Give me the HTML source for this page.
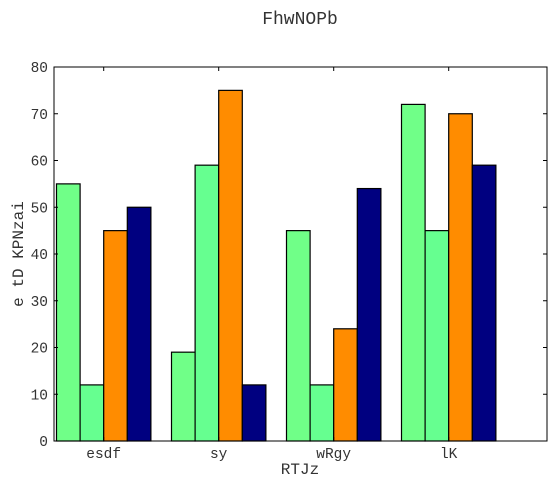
<!DOCTYPE html>
<html><head><style>
body{margin:0;background:#fff;}
text{font-family:"Liberation Mono","DejaVu Sans Mono",monospace;fill:#333;}
</style></head><body>
<svg id="c" width="560" height="490" xmlns="http://www.w3.org/2000/svg">
<rect width="560" height="490" fill="#fff"/>
<text x="300" y="24" text-anchor="middle" font-size="18">FhwNOPb</text>
<g id="bars"></g>
<g id="axes"></g>
<text x="300" y="474" text-anchor="middle" font-size="16">RTJz</text>
<text x="23" y="254" text-anchor="middle" font-size="16" transform="rotate(-90 23 254)">e tD KPNzai</text>
</svg>
<script>
const categories=["esdf","sy","wRgy","lK"];
const series1=[55,19,45,72];
const series2=[12,59,12,45];
const series3=[45,75,24,70];
const series4=[50,12,54,59];
const yTicks=[0,10,20,30,40,50,60,70,80];
const colors=["#70ff88","#66ff90","#ff8c00","#000080"];
const NS="http://www.w3.org/2000/svg";
const L=54,R=547,T=67,B=441,yMax=80;
const y=v=>B-(v/yMax)*(B-T);
const bw=23.6;
const x=i=>56.5+i*115;
const bars=document.getElementById('bars'),axes=document.getElementById('axes');
function mk(tag,a,parent){const e=document.createElementNS(NS,tag);for(const k in a)e.setAttribute(k,a[k]);parent.appendChild(e);return e;}
const all=[series1,series2,series3,series4];
all.forEach((s,si)=>{s.forEach((v,ci)=>{
 const r=mk('rect',{x:x(ci)+si*bw,y:y(v),width:bw,height:B-y(v),fill:colors[si],stroke:'#000','stroke-width':1.2},bars);
 
 
});});
const frame=mk('rect',{x:L,y:T,width:R-L,height:B-T,fill:'none',stroke:'#000','stroke-width':1},axes);


yTicks.forEach(t=>{
 mk('line',{x1:L,x2:L+4,y1:y(t),y2:y(t),stroke:'#000'},axes);
 mk('line',{x1:R,x2:R-4,y1:y(t),y2:y(t),stroke:'#000'},axes);
 const tx=mk('text',{x:L-6,y:y(t)+5,'text-anchor':'end','font-size':14.5},axes);
 tx.textContent=t;
 
 
});
categories.forEach((c,i)=>{
 const cx=x(i)+2*bw;
 mk('line',{x1:cx,x2:cx,y1:B,y2:B-4,stroke:'#000'},axes);
 mk('line',{x1:cx,x2:cx,y1:T,y2:T+4,stroke:'#000'},axes);
 const tx=mk('text',{x:cx,y:B+17,'text-anchor':'middle','font-size':14.5},axes);
 tx.textContent=c;
 
 
});
</script>
</body></html>
